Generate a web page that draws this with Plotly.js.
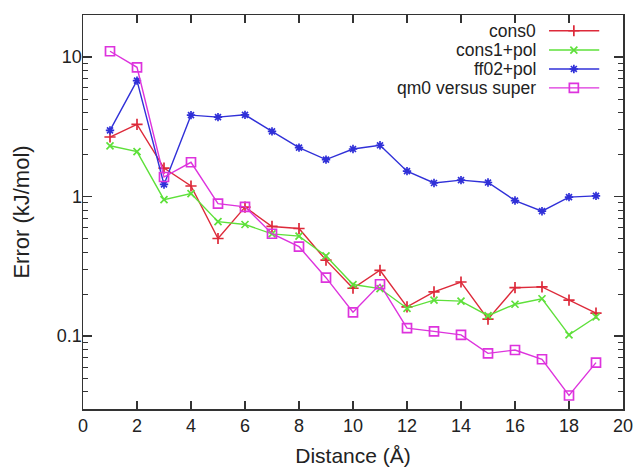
<!DOCTYPE html>
<html>
<head>
<meta charset="utf-8">
<script src="https://cdn.plot.ly/plotly-3.0.1.min.js"></script>
<style>html,body{margin:0;padding:0;background:#fff;}#chart{width:635px;height:467px;}</style>
</head>
<body>
<div id="chart"></div>
<script>
const distance = [1,2,3,4,5,6,7,8,9,10,11,12,13,14,15,16,17,18,19];
const cons0 = [2.67,3.29,1.60,1.19,0.50,0.84,0.61,0.59,0.35,0.22,0.296,0.162,0.207,0.244,0.132,0.222,0.225,0.181,0.146];
const cons1pol = [2.31,2.10,0.95,1.05,0.66,0.63,0.54,0.52,0.375,0.234,0.219,0.158,0.181,0.178,0.14,0.169,0.185,0.102,0.137];
const ff02pol = [2.98,6.77,1.22,3.83,3.71,3.85,2.93,2.24,1.84,2.19,2.33,1.52,1.25,1.31,1.26,0.936,0.785,0.99,1.01];
const qm0super = [11.0,8.44,1.38,1.76,0.89,0.844,0.541,0.437,0.262,0.148,0.235,0.114,0.108,0.102,0.0752,0.0794,0.0682,0.0375,0.0645];
const seriesNames = ["cons0","cons1+pol","ff02+pol","qm0 versus super"];
const xTickVals = [0,2,4,6,8,10,12,14,16,18,20];
const yTickVals = [0.1,1,10];
const yTickText = ["0.1","1","10"];
const yMinorVals = [0.03,0.04,0.05,0.06,0.07,0.08,0.09,0.2,0.3,0.4,0.5,0.6,0.7,0.8,0.9,2,3,4,5,6,7,8,9,20];

const seriesData = [cons0, cons1pol, ff02pol, qm0super];
const colors = ["#dd2a3a","#5ee03a","#3030d8","#dd33dd"];
const symbols = ["cross-thin-open","x-thin-open","asterisk-open","square-open"];
const sizes = [8,7,7,9];
const FONT = "Liberation Sans, Arial, Helvetica, sans-serif";

const traces = [];
seriesData.forEach((ys,i)=>{
  traces.push({
    x: distance, y: ys, type:"scatter", mode:"lines+markers", name: seriesNames[i],
    line:{color:colors[i], width:1.4},
    marker:{symbol:symbols[i], size:sizes[i], color:colors[i], line:{color:colors[i], width:1.7}},
    showlegend:false
  });
});

// custom gnuplot-style legend: label right-aligned, sample line to its right
const legRows = [0.960,0.911,0.863,0.815];
const legX0 = 0.863, legX1 = 0.956, legXm = 0.909;
const annotations = [];
const shapes = [];
seriesNames.forEach((nm,i)=>{
  shapes.push({type:"line", xref:"paper", yref:"paper", x0:legX0, x1:legX1, y0:legRows[i], y1:legRows[i],
               line:{color:colors[i], width:1.4}});
  traces.push({
    x:[legXm], y:[legRows[i]],
    xaxis:"x2", yaxis:"y2", type:"scatter", mode:"markers",
    marker:{symbol:symbols[i], size:sizes[i], color:colors[i], line:{color:colors[i], width:1.7}},
    showlegend:false, hoverinfo:"skip", cliponaxis:false
  });
  annotations.push({
    xref:"paper", yref:"paper", x:0.842, y:legRows[i], xanchor:"right", yanchor:"middle",
    text:nm, showarrow:false, font:{family:FONT, size:17.5, color:"#222"}
  });
});

const layout = {
  width:635, height:467,
  margin:{l:83, r:12, t:15, b:58},
  paper_bgcolor:"#fff", plot_bgcolor:"rgba(0,0,0,0)",
  font:{family:FONT, color:"#222"},
  showlegend:false,
  xaxis:{
    range:[0,20], tickmode:"array", tickvals:xTickVals,
    ticks:"inside", ticklen:8, tickwidth:1.2, tickcolor:"#333",
    showline:true, linecolor:"#333", linewidth:1.5, mirror:"ticks",
    showgrid:false, zeroline:false,
    tickfont:{family:FONT, size:18, color:"#222"},
    title:{text:"Distance (Å)", font:{family:FONT, size:21, color:"#222"}},
    automargin:false
  },
  yaxis:{
    type:"log", range:[Math.log10(0.03), Math.log10(20)],
    tickmode:"array", tickvals:yTickVals, ticktext:yTickText,
    ticks:"inside", ticklen:9, tickwidth:1.2, tickcolor:"#333",
    showline:true, linecolor:"#333", linewidth:1.5, mirror:"ticks",
    showgrid:false, zeroline:false,
    ticklabelstandoff:-4,
    minor:{tickmode:"array", tickvals:yMinorVals, ticks:"inside", ticklen:5, tickwidth:1, tickcolor:"#333", showgrid:false},
    tickfont:{family:FONT, size:18, color:"#222"},
    title:{text:"Error (kJ/mol)", font:{family:FONT, size:22, color:"#222"}},
    automargin:false
  },
  xaxis2:{domain:[0,1], anchor:"y2", range:[0,1], visible:false, fixedrange:true},
  yaxis2:{domain:[0,1], anchor:"x2", range:[0,1], visible:false, fixedrange:true},
  shapes:shapes,
  annotations:annotations
};

Plotly.newPlot("chart", traces, layout, {displayModeBar:false, staticPlot:true});
</script>
</body>
</html>
